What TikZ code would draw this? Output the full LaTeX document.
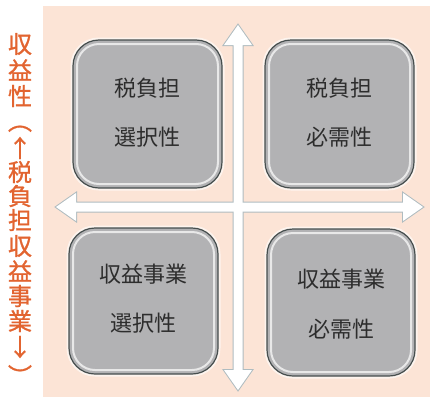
\documentclass[tikz,border=0pt]{standalone}
\usepackage{fontspec}
\usepackage{graphicx}
\newfontfamily\jp{Noto Sans CJK JP}
\newfontfamily\jpb[FakeBold=1]{Noto Sans CJK JP}
\usetikzlibrary{calc}
\definecolor{bg}{RGB}{252,228,214}
\definecolor{lab}{RGB}{226,100,48}
\definecolor{boxfill}{RGB}{178,178,180}
\definecolor{boxline}{RGB}{70,78,78}
\definecolor{arrline}{RGB}{175,188,192}
\definecolor{txt}{RGB}{45,45,45}
\begin{document}
\begin{tikzpicture}[x=1pt,y=-1pt,
  qbox/.style={draw=boxline, line width=1.2pt, fill=boxfill, rounded corners=26pt, inner sep=0pt,
    preaction={draw=white, line width=5pt, draw opacity=0.6}},
  qinner/.style={draw=white, line width=2pt, draw opacity=0.7, rounded corners=22pt, inner sep=0pt},
  qtext/.style={font=\jp\fontsize{22}{22}\selectfont, text=txt, inner sep=0pt},
  lchar/.style={font=\jpb\fontsize{24}{24}\selectfont, text=lab, inner sep=0pt},
  axisout/.style={draw=arrline, line width=2pt, line join=miter},
  axisin/.style={fill=white},
]
\useasboundingbox (0,0) rectangle (430,399);
\fill[bg] (43,6) rectangle (430,397);

% axes
\coordinate (vtop) at (238,25);
\coordinate (vbot) at (238,390);
\coordinate (hl) at (56,207);
\coordinate (hr) at (423,207);
\def\vaxis{(vtop) -- ++(14,20) -- ++(-9.5,0) -- ++(0,325) -- ++(9.5,0) -- (vbot) -- ++(-14,-20) -- ++(9.5,0) -- ++(0,-325) -- ++(-9.5,0) -- cycle}
\def\haxis{(hl) -- ++(20,-14) -- ++(0,9.5) -- ++(327,0) -- ++(0,-9.5) -- (hr) -- ++(-20,14) -- ++(0,-9.5) -- ++(-327,0) -- ++(0,9.5) -- cycle}
\path[axisout] \vaxis;
\path[axisout] \haxis;
\path[axisin] \vaxis;
\path[axisin] \haxis;

% boxes
\node[qbox, minimum width=149pt, minimum height=148pt] (tl) at (147.5,114) {};
\node[qinner, minimum width=141pt, minimum height=140pt] (tlin) at (tl.center) {};
\node[qtext] (tla) at (147.5,88) {税負担};
\node[qtext] (tlb) at (147.5,137) {選択性};

\node[qbox, minimum width=149pt, minimum height=148pt] (tr) at (339.5,114) {};
\node[qinner, minimum width=141pt, minimum height=140pt] (trin) at (tr.center) {};
\node[qtext] (tra) at (339.5,88) {税負担};
\node[qtext] (trb) at (339.5,137) {必需性};

\node[qbox, minimum width=149pt, minimum height=146pt] (bl) at (143.5,301) {};
\node[qinner, minimum width=141pt, minimum height=138pt] (blin) at (bl.center) {};
\node[qtext] (bla) at (143.5,274) {収益事業};
\node[qtext] (blb) at (143.5,323) {選択性};

\node[qbox, minimum width=148pt, minimum height=147pt] (br) at (341,302.5) {};
\node[qinner, minimum width=140pt, minimum height=139pt] (brin) at (br.center) {};
\node[qtext] (bra) at (341,279) {収益事業};
\node[qtext] (brb) at (341,329) {必需性};

% vertical label
\foreach \ch/\yy [count=\i] in {収/44, 益/70, 性/96, ↑/148, 税/172, 負/196, 担/220, 収/246, 益/271, 事/296, 業/321, ↓/347}
  \node[lchar] (lab\i) at (20,\yy) {\ch};
\node[lchar] (labpo) at (20,121) {\rotatebox[origin=c]{-90}{（}};
\node[lchar] (labpc) at (20,376) {\rotatebox[origin=c]{-90}{）}};
\end{tikzpicture}
\end{document}
